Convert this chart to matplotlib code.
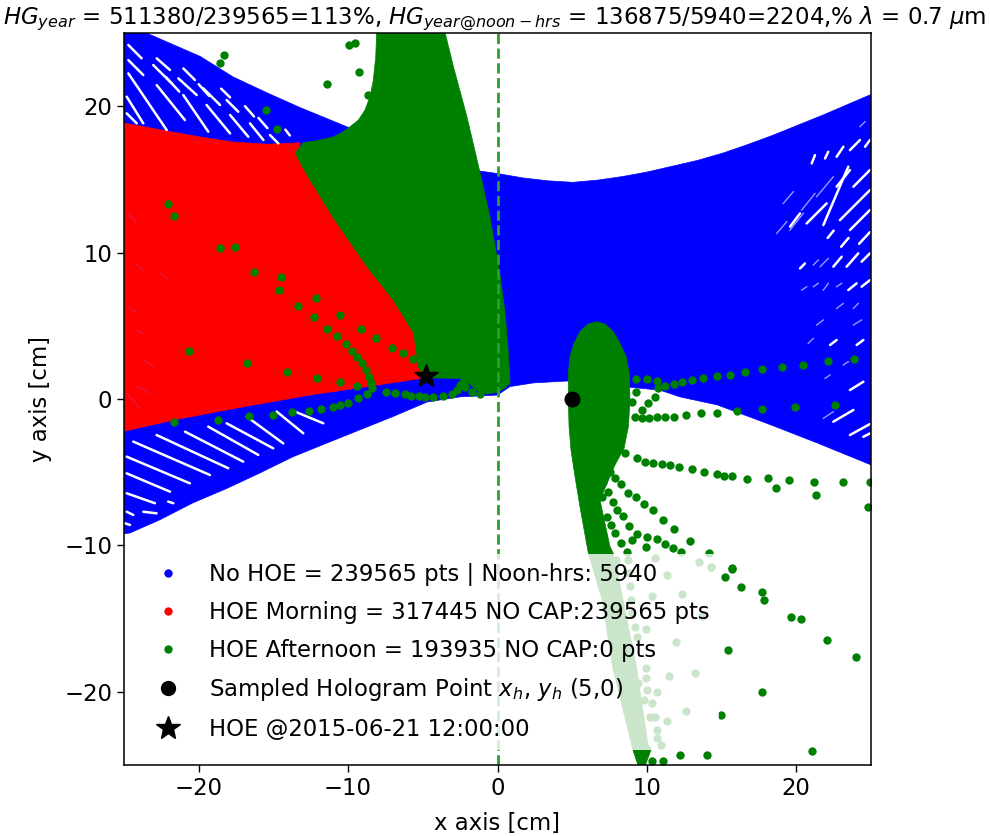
import matplotlib
matplotlib.use('Agg')
import matplotlib.pyplot as plt
from matplotlib.lines import Line2D

# region outlines (cm)
blue_x = [-25, -23.5, -19.9, -17.7, -15.4, -13.2, -10.1, -1.4, 0, 1.7, 3.4, 5.05, 6.7, 8.4, 10, 11.7, 13.4, 15.1, 16.8, 18.4, 20.1, 21.8, 25,
          25, 21.4, 18, 14.7, 12.2, 10.9, 4.65, 2.4, 0.84, 0, -2.5, -4.7, -7, -9.2, -11.4, -13.7, -15.9, -18.1, -20.4, -22.6, -24.6, -25]
blue_y = [25, 25, 23.4, 22, 20.9, 19.9, 18.6, 15.6, 15.4, 15.1, 14.9, 14.8, 14.95, 15.2, 15.5, 15.9, 16.3, 16.8, 17.4, 18, 18.7, 19.4, 20.8,
          -4.5, -3, -1.65, -0.4, 0.15, 0.6, 1.23, 1.1, 0.85, 0.27, 0.15, -0.2, -1.2, -2.1, -3, -3.95, -5.05, -6.1, -7.1, -8.25, -9.15, -9.2]

red_x = [-25, -22.1, -19.9, -17.7, -15.4, -13.2, -13.4, -12.8, -11, -8.7, -7, -5.6, -5.3, -4.85, -8.7, -12.55, -17, -21.5, -25]
red_y = [18.85, 18.3, 17.9, 17.55, 17.4, 17.5, 16.8, 15.4, 12.4, 9, 6.8, 4.5, 2.2, 1.45, 0.85, 0.27, -0.53, -1.4, -2.2]

green_x = [-8.09, -3.5, -2.95, -2.05, -1.2, -0.5, 0.15, 0.5, 0.7, 0.84, 0.5, 0, -0.7, -1.4, -2.3, -4.85, -5.3, -5.6, -7, -8.7, -11, -12.8,
           -13.55, -13, -12.1, -11, -10.32, -9.87, -9.31, -8.87, -8.53, -8.31, -8.15]
green_y = [25, 25, 22.7, 19.3, 15.6, 12.4, 8.6, 5.9, 3.5, 1.1, 0.75, 0.45, 0.35, 0.6, 1.4, 1.45, 2.2, 4.5, 6.8, 9, 12.4, 15.4,
           16.8, 17.5, 17.64, 17.9, 18.26, 18.6, 19.05, 19.74, 20.65, 21.79, 23.38]

lobe_x = [6.64, 6.08, 5.52, 5.12, 4.85, 4.74, 4.74, 4.79, 4.92, 5.19, 5.52, 6.08, 7, 7.7, 9.07, 9.4, 9.9, 10.3, 10.07, 9.3, 8.4, 7.75, 7.53,
          6.86, 7.86, 8.47, 8.76, 8.87, 8.82, 8.6, 8.2, 7.75, 7.2]
lobe_y = [5.28, 5.12, 4.6, 3.8, 2.89, 1.75, -0.07, -1.89, -3.49, -5.31, -7.36, -10.54, -13.7, -18.3, -24, -25, -25, -23.9, -23.6, -18.3, -13.7, -10.54, -10.09,
          -6.9, -4.51, -3.37, -1.89, -0.07, 1.75, 2.89, 3.8, 4.6, 5.12]

# gaps between the blue rows: x0, y0, x1, y1
blue_gaps = [
    (-24.82, -3.94, -20.59, -5.76), (-24.82, -5.08, -21.92, -6.33), (-24.82, -6.44, -22.93, -7.12),
    (-24.38, -2.91, -19.25, -5.19), (-22.82, -2.46, -18.02, -4.73), (-20.92, -2.23, -17.02, -4.28),
    (-19.36, -1.89, -16.01, -3.82), (-18.13, -1.66, -15.01, -3.37), (-16.79, -1.2, -14.34, -3.03),
    (-14.78, -0.86, -13, -2.34), (-13.56, -0.86, -11.66, -1.66), (-24.82, -7.7, -24.38, -7.92),
    (-23.71, -7.7, -22.82, -7.81), (-22.04, -7.01, -21.7, -7.12), (-24.94, -8.49, -24.6, -8.6),
    (-24.71, 22.24, -22.14, 18.37), (-24.71, 24.18, -23.82, 23.27), (-24.71, 23.15, -23.71, 22.13),
    (-24.82, 20.65, -23.71, 18.83), (-24.82, 19.51, -24.15, 18.83), (-22.81, 21.44, -20.92, 19.05),
    (-22.81, 23.27, -21.92, 22.47), (-23.04, 22.81, -21.81, 21.56), (-21.03, 20.76, -19.36, 18.26),
    (-21.36, 21.9, -20.13, 20.76), (-19.69, 21.22, -18.57, 20.08), (-19.47, 20.08, -17.9, 18.14),
    (-17.9, 19.4, -16.68, 17.91), (-18.13, 20.42, -17.35, 19.62), (-16.57, 18.83, -15.67, 17.69),
    (-15.23, 18.03, -14.67, 17.46), (-21.03, 22.58, -20.25, 21.79),
    (-22.2, 22, -21.3, 21), (-20, 21.5, -19.3, 20.7), (-18.5, 21.2, -17.9, 20.6),
    (-16.9, 20, -16.3, 19.3), (-16, 19.2, -15.4, 18.5), (-14.2, 18.4, -13.9, 18),
    (21.81, 11.88, 23.48, 15.87), (22.92, 12.22, 24.93, 14.27), (23.59, 11.54, 24.93, 12.91),
    (22.7, 14.5, 23.59, 15.64), (23.82, 14.5, 24.93, 15.64), (23.59, 17, 24.26, 17.69),
    (24.6, 17.23, 24.93, 17.69), (22.7, 16.55, 23.15, 17.23), (21.03, 16.09, 21.25, 16.66),
    (21.92, 16.43, 22.14, 16.89), (23.37, 9.04, 24.15, 9.95), (24.37, 9.38, 24.93, 9.95),
    (22.48, 9.04, 23.04, 9.72), (23.48, 7.44, 24.04, 7.9), (24.37, 7.67, 24.93, 8.12),
    (20.25, 8.92, 20.58, 9.26), (20.69, 11.99, 22.03, 13.36), (19.58, 11.77, 20.25, 12.68),
    (24.2, 10.6, 24.93, 11.4), (23, 10.4, 23.5, 11), (22.1, 11, 22.5, 11.5),
    (23.59, -2.46, 24.93, -1.71), (22.48, -1.55, 23.82, -0.75), (23.59, 0.61, 24.49, 1.18),
    (22.26, 3.69, 22.7, 4.03), (24.04, 3.69, 24.49, 4.03), (24.49, -2.58, 24.93, -2.35),
]
blue_faint = [
    (19.13, 13.36, 19.8, 14.16), (19.58, 11.54, 20.47, 12.68), (20.36, 12.9, 21.25, 14.04),
    (21.36, 13.82, 22.48, 15.18), (18.69, 11.31, 19.36, 12.11), (21.14, 9.15, 21.47, 9.49),
    (21.6, 9.04, 22.14, 9.6), (20.36, 7.44, 20.7, 7.67), (21.14, 7.67, 21.47, 7.9),
    (21.81, 7.44, 22.14, 7.9), (22.7, 7.67, 23.04, 7.9), (24.26, 18.6, 24.6, 18.94),
    (20.8, 3.8, 21.14, 4.14), (21.36, 5.05, 21.81, 5.4), (22.7, 6.19, 23.15, 6.53),
    (23.82, 6.19, 24.15, 6.53), (23.82, 5.05, 24.37, 5.4), (21.92, 1.41, 22.26, 1.64),
    (23.15, 2.32, 23.48, 2.55), (21.81, -1.32, 22.48, -0.87),
]
red_gaps = [(-24.82, 0.39, -23.93, -0.64), (-24.04, 0.84, -23.26, 0.39), (-24.16, 4.71, -23.82, 4.53),
            (-24.6, 6.2, -24.1, 5.9), (-23.6, 2.6, -23, 2.2), (-24.7, 12.6, -24.2, 12.1),
            (-22.6, 8.6, -22.1, 8.2), (-24.2, 9.2, -23.7, 8.8)]

# afternoon points, one list per track
track_x = [-14.6, -13.33, -12.17, -12.29, -10.52, -11.42, -10.77, -9.12, -8.11, -10.14, -9.76, -9.38, -7.07, -6.3, -5.68,
           -20.63, -16.79, -14.09, -12.06, -10.52, -9.38,
           -9.09, -8.8, -8.58, -8.47, -8.43, -8.76, -9.32, -10.01, -10.52, -11.04, -11.82, -12.6, -13.74, -15.01, -16.66, -18.73, -21.66,
           -7.47, -6.84, -6.17, -5.79, -5.23, -4.86, -4.3, -3.63, -3.07, -2.74, -2.51, -2.29, -2.18, -1.73, -1.17,
           -18.31, -18.6, -9.54, -9.92, -9.27, -11.41, -8.65, -15.52, -14.74, -22.03, -21.65, -18.6, -17.57, -16.28, -14.49]
track_y = [7.45, 6.38, 6.92, 5.63, 5.74, 4.81, 4.3, 4.81, 4.17, 3.78, 3.28, 2.85, 3.51, 3.12, 2.73,
           3.28, 2.48, 1.82, 1.41, 1.16, 0.89,
           2.44, 1.98, 1.53, 1.07, 0.73, 0.34, 0.05, -0.25, -0.41, -0.52, -0.66, -0.8, -0.91, -1.07, -1.18, -1.43, -1.59,
           0.5, 0.39, 0.34, 0.23, 0.23, 0.16, 0.16, 0.21, 0.34, 0.62, 0.96, 1.19, 0.84, 0.5, 0.32,
           23.49, 22.97, 24.29, 24.18, 22.33, 21.53, 20.76, 19.71, 18.42, 13.29, 12.5, 10.29, 10.4, 8.69, 8.35]

right_x = [23.88, 22.1, 20.43, 19.02, 17.73, 16.59, 15.56, 14.67, 13.78, 13, 12.35, 11.81, 11.21,
           10.65, 9.98, 9.3, 10.77, 10.54, 10.1, 9.65, 9.2, 9.3, 8.98,
           22.59, 19.91, 17.73, 16.05, 14.67, 13.62, 12.62, 11.84, 11.21, 10.65, 10.16, 9.65,
           8.53, 9.31, 9.87, 10.43, 10.99, 11.55, 12.17, 13, 13.82, 14.67, 15.16, 15.7, 16.72, 18.13, 18.62, 19.51, 21.16, 21.32, 23.1, 24.93, 24.82,
           7.53, 7.86, 8.24, 8.76, 9.27, 9.8, 10.43, 11.08, 11.84, 12.88, 14.16, 15.67,
           7.08, 7.42, 7.75, 8.02, 8.38, 8.8,
           6.97, 7.31, 7.6, 7.86, 8.24,
           8.65, 8.98, 9.31, 9.98, 10.65, 11.21, 11.77, 12.28, 9.92]
right_y = [2.71, 2.59, 2.32, 2.21, 2.05, 1.82, 1.66, 1.55, 1.41, 1.3, 1.16, 1.02, 0.89,
           1.23, 1.34, 1.36, 0.73, 0.16, -0.3, -0.75, -1.21, 0.5, -0.18,
           -0.41, -0.53, -0.66, -0.8, -0.94, -0.94, -1.07, -1.21, -1.21, -1.21, -1.32, -1.32,
           -3.67, -4.06, -4.28, -4.4, -4.44, -4.51, -4.67, -4.81, -4.99, -5.13, -5.24, -5.24, -5.49, -5.38, -6.06, -5.51, -5.65, -6.56, -5.65, -5.65, -7.36,
           -4.97, -5.42, -5.83, -6.4, -6.67, -7.2, -7.58, -8.24, -8.9, -9.68, -10.54, -11.57,
           -5.65, -6.33, -7.06, -7.58, -7.99, -8.65,
           -6.67, -8.04, -8.61, -9.13, -9.82,
           -10.43, -9.63, -9.22, -9.45, -9.59, -9.91, -10.2, -10.48, -10.09]

low_x = [15.67, 15.23, 16.3, 17.73, 17.86, 19.62, 20.29, 22.08, 24, 15.43, 17.73, 21.05, 12.24, 14.02, 10.32, 11.1,
         10.57, 11.32, 12.37, 10.32, 9.94, 11.95, 13.71, 14.29, 13.24, 11.48, 9.94, 9.94, 9.43, 10.7, 10, 9.32, 9.81, 10.32,
         12.62, 14.96, 10.21, 10.54, 11.32, 10.7, 10.7, 10.94, 7.91, 13.51, 14.27,
         8.76, 8.82, 8.87, 8.91, 9, 9.2, 9.32]
low_y = [-11.63, -12.18, -12.82, -13.2, -13.73, -14.91, -15.05, -16.46, -17.64, -17.14, -20, -24.04, -24.32, -24.32, -24.75, -24.75,
         -10.84, -12.02, -13.32, -13.46, -15.69, -16.6, -14.82, -11.5, -18.69, -18.92, -18.4, -19.08, -19.42, -20, -19.88, -20.51, -20.56, -20.79,
         -21.31, -21.56, -21.7, -21.7, -21.97, -22.61, -23.13, -23.66, -11, -11.11, -11.45,
         -11, -11.9, -12.8, -13.73, -14.64, -15.55, -16.23]

sample_x, sample_y = 5, 0
star_x, star_y = -4.8, 1.6

labels = ['No HOE = 239565 pts | Noon-hrs: 5940',
          'HOE Morning = 317445 NO CAP:239565 pts',
          'HOE Afternoon = 193935 NO CAP:0 pts',
          'Sampled Hologram Point $x_h$, $y_h$ (5,0)',
          'HOE @2015-06-21 12:00:00']

plt.rcParams['font.size'] = 16.4
plt.rcParams['axes.linewidth'] = 1.1

fig = plt.figure(figsize=(9.9, 8.36), dpi=100)
ax = fig.add_axes([124 / 990, 1 - 765 / 836, 747 / 990, 732 / 836])

ax.fill(blue_x, blue_y, color='b', lw=0.5)
for x0, y0, x1, y1 in blue_gaps:
    ax.plot([x0, x1], [y0, y1], color='w', lw=1.8, solid_capstyle='round')
for x0, y0, x1, y1 in blue_faint:
    ax.plot([x0, x1], [y0, y1], color='w', lw=1, alpha=0.6)
ax.fill(red_x, red_y, color='r', lw=0.5)
for x0, y0, x1, y1 in red_gaps:
    ax.plot([x0, x1], [y0, y1], color='#c0308a', lw=0.8, alpha=0.6)
ax.fill(green_x, green_y, color='g', lw=0.5)
ax.fill(lobe_x, lobe_y, color='g', lw=0.5)

ax.plot(track_x, track_y, 'g.', ms=12, mew=0)
ax.plot(right_x, right_y, 'g.', ms=12, mew=0)
ax.plot(low_x, low_y, 'g.', ms=12, mew=0)
ax.plot([0, 0], [-25, 25], color='C2', ls='--', lw=2)
ax.plot(sample_x, sample_y, 'ko', ms=10.5)
ax.plot(star_x, star_y, 'k*', ms=18)

ax.set_xlim(-25, 25)
ax.set_ylim(-25, 25)
ax.set_xticks([-20, -10, 0, 10, 20])
ax.set_yticks([-20, -10, 0, 10, 20])
ax.tick_params(length=5, width=1)
ax.set_xlabel('x axis [cm]', labelpad=8.5)
ax.set_ylabel('y axis [cm]', labelpad=9)
ax.set_title(r'$HG_{year}$ = 511380/239565=113%, $HG_{year@noon-hrs}$ = 136875/5940=2204,% $\lambda$ = 0.7 $\mu$m',
             fontsize=16.5, pad=6, x=0.4965)

handles = [Line2D([], [], color='b', marker='.', ls='', ms=12, mew=0),
           Line2D([], [], color='r', marker='.', ls='', ms=12, mew=0),
           Line2D([], [], color='g', marker='.', ls='', ms=12, mew=0),
           Line2D([], [], color='k', marker='o', ls='', ms=10),
           Line2D([], [], color='k', marker='*', ls='', ms=18)]
ax.legend(handles, labels, loc='lower left', bbox_to_anchor=(0.016, 0.02), borderaxespad=0,
          edgecolor='none', framealpha=0.8, labelspacing=0.65, fontsize=16.4)

fig.savefig('out.png', dpi=100)
